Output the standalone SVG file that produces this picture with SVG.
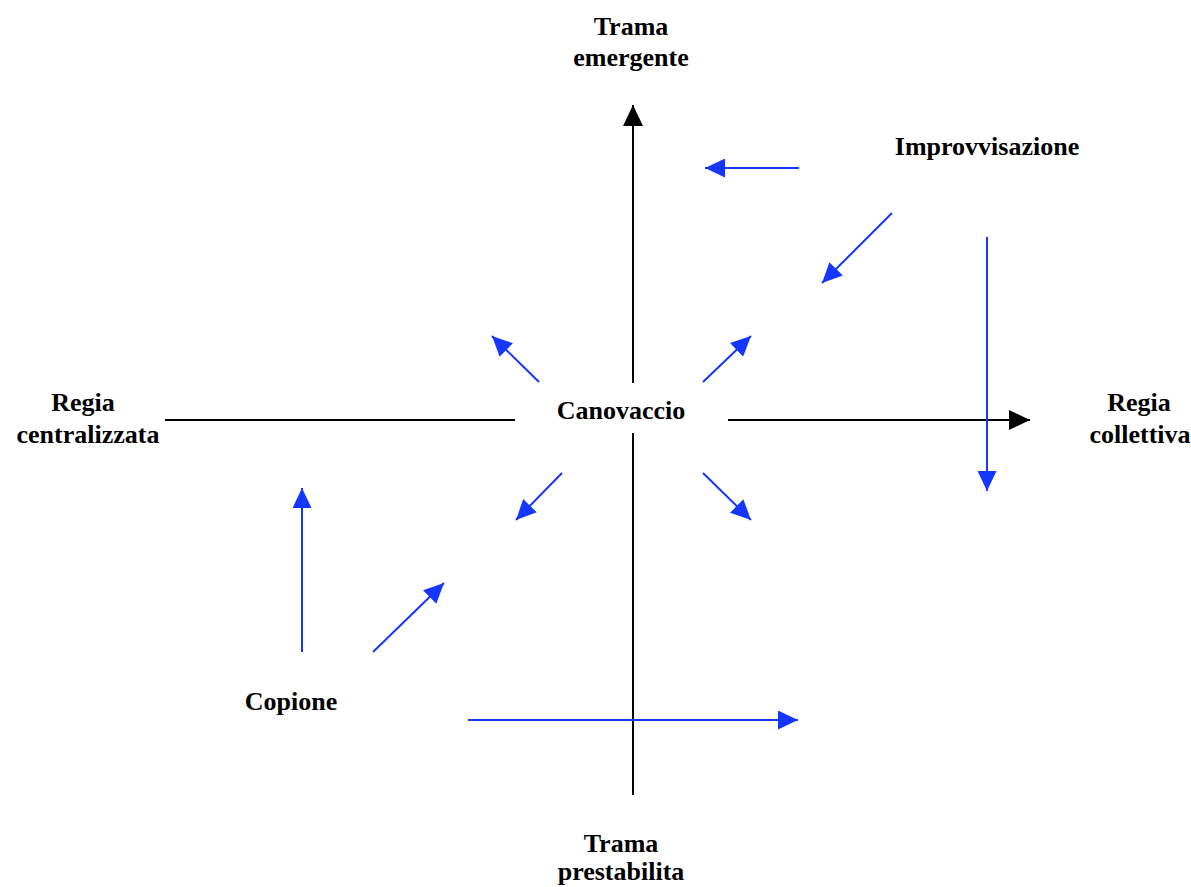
<svg xmlns="http://www.w3.org/2000/svg" width="1191" height="887" viewBox="0 0 1191 887">
<style>
.t{font-family:"Liberation Serif","Times New Roman",serif;font-weight:bold;font-size:26px;fill:#000;text-anchor:middle}
.ax{stroke:#000;stroke-width:2;fill:none}
.bl{stroke:#1436ff;stroke-width:2;fill:none;marker-end:url(#hb)}
</style>
<defs>
<marker id="hk" markerUnits="userSpaceOnUse" markerWidth="22" markerHeight="20" refX="21" refY="10" orient="auto" viewBox="0 0 22 20"><path d="M0,0 L21,10 L0,20 z" fill="#000"/></marker>
<marker id="hb" markerUnits="userSpaceOnUse" markerWidth="21" markerHeight="19" refX="20" refY="9.5" orient="auto" viewBox="0 0 21 19"><path d="M0,0 L20,9.5 L0,19 z" fill="#1436ff"/></marker>
</defs>
<rect width="1191" height="887" fill="#fff"/>
<g id="connectors">
<line class="ax" x1="633" y1="383" x2="633" y2="105" marker-end="url(#hk)"/>
<line class="ax" x1="633" y1="433" x2="633" y2="795"/>
<line class="ax" x1="165" y1="420" x2="515" y2="420"/>
<line class="ax" x1="728" y1="420" x2="1030" y2="420" marker-end="url(#hk)"/>
<line class="bl" x1="539" y1="382" x2="492" y2="336"/>
<line class="bl" x1="703" y1="382" x2="751" y2="336"/>
<line class="bl" x1="562" y1="473" x2="516" y2="520"/>
<line class="bl" x1="703" y1="473" x2="751" y2="520"/>
<line class="bl" x1="799" y1="168" x2="705" y2="168"/>
<line class="bl" x1="892" y1="213" x2="822" y2="283"/>
<line class="bl" x1="987" y1="237" x2="987" y2="491"/>
<line class="bl" x1="302" y1="652" x2="302" y2="488"/>
<line class="bl" x1="373" y1="652" x2="444" y2="583"/>
<line class="bl" x1="468" y1="720" x2="798" y2="720"/>
</g>
<g id="trama-emergente"><text class="t" x="631" y="35">Trama</text><text class="t" x="631" y="66">emergente</text></g>
<g id="trama-prestabilita"><text class="t" x="621" y="852">Trama</text><text class="t" x="621" y="880">prestabilita</text></g>
<g id="regia-centralizzata"><text class="t" x="83" y="411">Regia</text><text class="t" x="88" y="443">centralizzata</text></g>
<g id="regia-collettiva"><text class="t" x="1139" y="411">Regia</text><text class="t" x="1140" y="443">collettiva</text></g>
<g id="canovaccio"><text class="t" x="621" y="419">Canovaccio</text></g>
<g id="improvvisazione"><text class="t" x="987" y="155">Improvvisazione</text></g>
<g id="copione"><text class="t" x="291" y="710">Copione</text></g>
</svg>
